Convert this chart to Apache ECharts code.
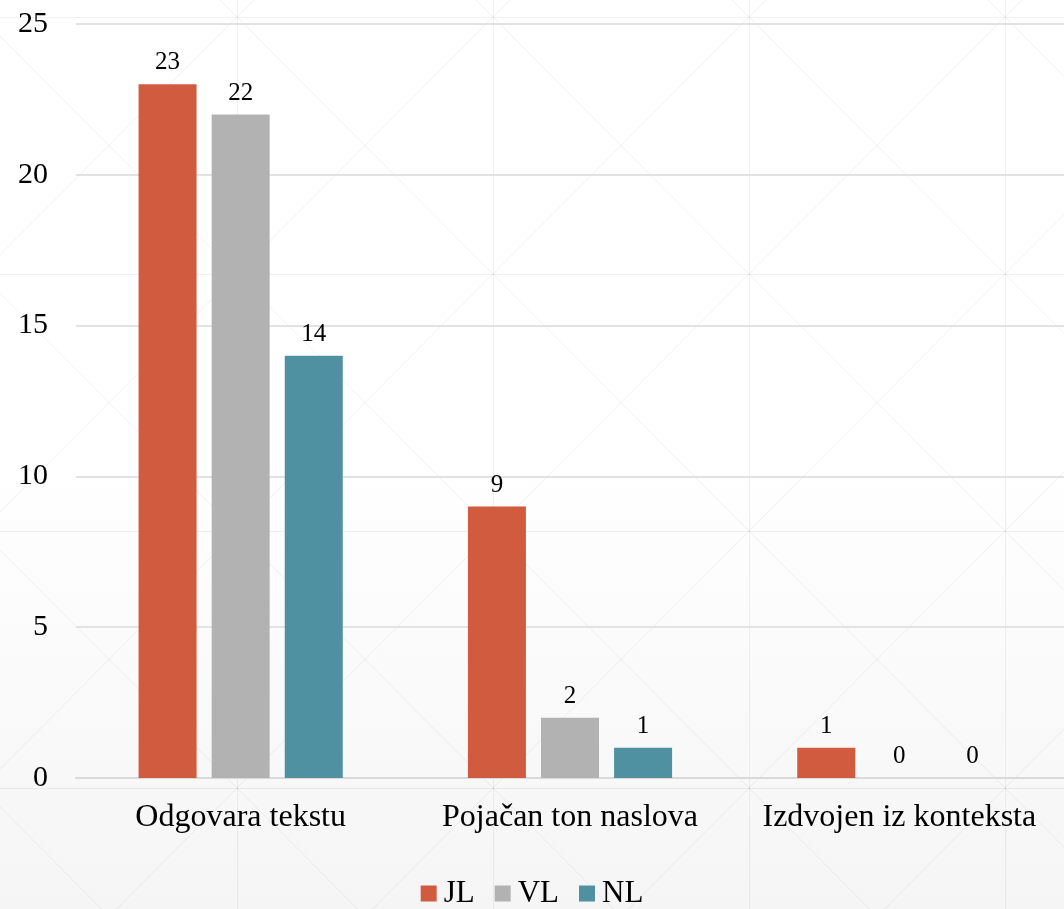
<!DOCTYPE html>
<html>
<head>
<meta charset="utf-8">
<script src="https://cdn.jsdelivr.net/npm/echarts@6/dist/echarts.min.js"></script>
<style>
html,body{margin:0;padding:0;background:#fff;}
#chart{width:1064px;height:909px;}
</style>
</head>
<body>
<div id="chart"></div>
<script>
var categories = ['Odgovara tekstu', 'Pojačan ton naslova', 'Izdvojen iz konteksta'];
var seriesNames = ['JL', 'VL', 'NL'];
var jlValues = [23, 9, 1];
var vlValues = [22, 2, 0];
var nlValues = [14, 1, 0];
var colors = ['#d15b3f', '#b2b2b2', '#4f91a0'];

// decorative background (gradient + faint diamond pattern)
(function () {
  var W = 1064, H = 909;
  var c = document.createElement('canvas');
  c.width = W; c.height = H;
  var ctx = c.getContext('2d');
  var g = ctx.createLinearGradient(0, 0, 0, H);
  g.addColorStop(0, '#ffffff');
  g.addColorStop(0.5, '#ffffff');
  g.addColorStop(1, '#f5f5f5');
  ctx.fillStyle = g;
  ctx.fillRect(0, 0, W, H);
  ctx.strokeStyle = 'rgba(0,0,0,0.055)';
  ctx.lineWidth = 1;
  var tw = 256, th = 257;
  for (var x0 = 237 - tw * 2; x0 < W + tw; x0 += tw) {
    for (var y0 = 17 - th * 2; y0 < H + th; y0 += th) {
      ctx.beginPath();
      ctx.moveTo(x0 + 0.5, y0); ctx.lineTo(x0 + 0.5, y0 + th);
      ctx.moveTo(x0, y0 + 0.5); ctx.lineTo(x0 + tw, y0 + 0.5);
      ctx.moveTo(x0, y0); ctx.lineTo(x0 + tw, y0 + th);
      ctx.moveTo(x0 + tw, y0); ctx.lineTo(x0, y0 + th);
      ctx.stroke();
    }
  }
  document.getElementById('chart').style.background = 'url(' + c.toDataURL() + ') no-repeat';
})();

var chart = echarts.init(document.getElementById('chart'));
var FONT = '"Liberation Serif", "Times New Roman", serif';
var valueSets = [jlValues, vlValues, nlValues];
var series = seriesNames.map(function (name, i) {
  return {
    name: name,
    type: 'bar',
    data: valueSets[i],
    barGap: '26%',
    barCategoryGap: '38%',
    itemStyle: { color: colors[i] },
    label: {
      show: true,
      position: 'top',
      distance: 9,
      color: '#000',
      fontFamily: FONT,
      fontSize: 25
    }
  };
});

chart.setOption({
  backgroundColor: 'transparent',
  animation: false,
  textStyle: { fontFamily: FONT },
  grid: { left: 76, right: 0, top: 24, bottom: 131, containLabel: false },
  legend: {
    data: seriesNames,
    top: 873,
    left: 'center',
    itemWidth: 16,
    itemHeight: 16,
    itemGap: 20,
    icon: 'rect',
    textStyle: { fontFamily: FONT, fontSize: 31, color: '#000', padding: [0, 0, 0, 2] }
  },
  xAxis: {
    type: 'category',
    data: categories,
    axisLine: { show: true, lineStyle: { color: '#d9d9d9', width: 2 } },
    axisTick: { show: false },
    axisLabel: { color: '#000', fontFamily: FONT, fontSize: 32, margin: 24, interval: 0, hideOverlap: false }
  },
  yAxis: {
    type: 'value',
    min: 0,
    max: 25,
    interval: 5,
    axisLine: { show: false },
    axisTick: { show: false },
    splitLine: { lineStyle: { color: '#e2e2e2', width: 2 } },
    axisLabel: { color: '#000', fontFamily: FONT, fontSize: 30, margin: 28 }
  },
  series: series
});
</script>
</body>
</html>
